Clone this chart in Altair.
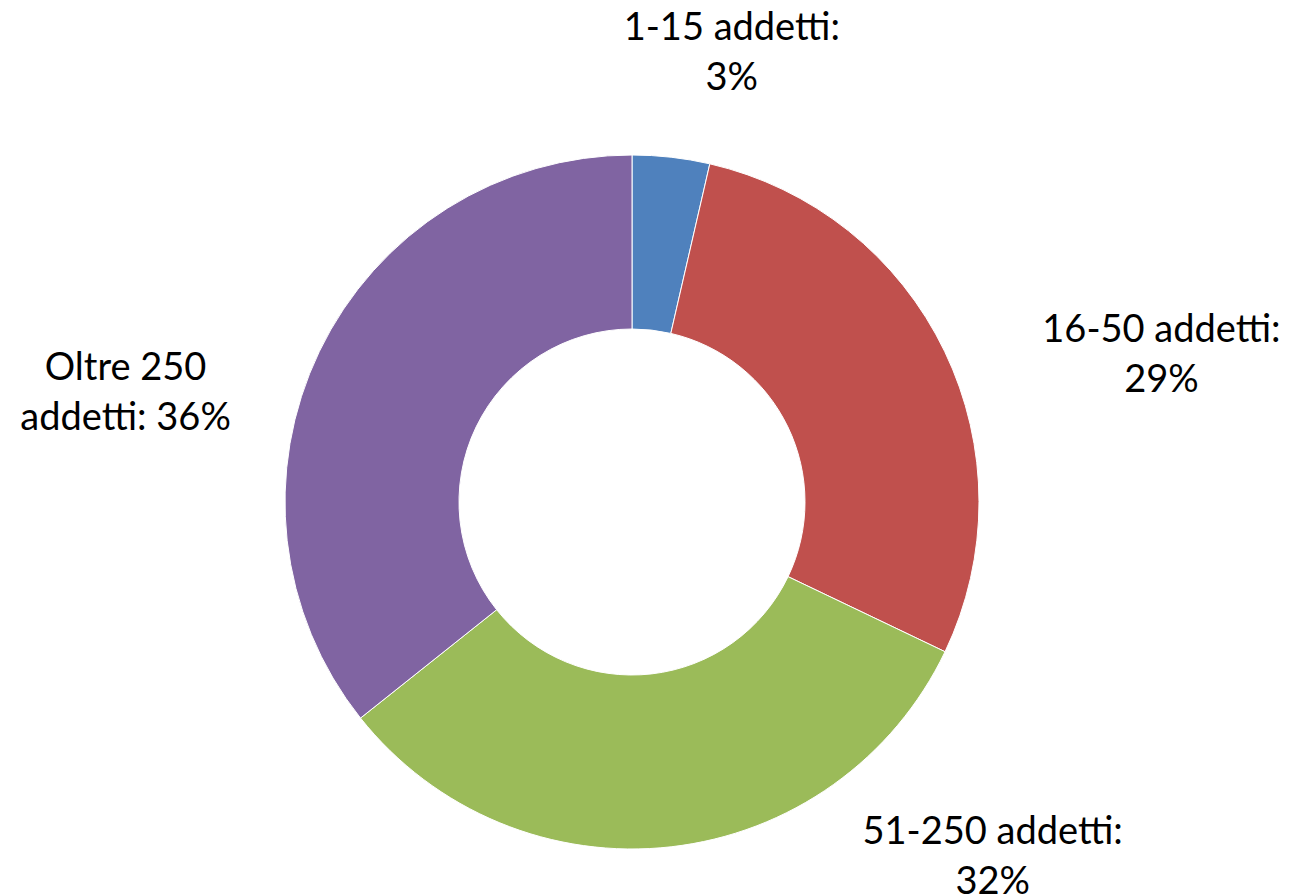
import altair as alt
import pandas as pd

categories = ["1-15 addetti", "16-50 addetti", "51-250 addetti", "Oltre 250 addetti"]
values = [3.6, 28.5, 32.2, 35.7]
labels = ["1-15 addetti:\n3%", "16-50 addetti:\n29%", "51-250 addetti:\n32%", "Oltre 250\naddetti: 36%"]
colors = ["#4F81BD", "#C0504D", "#9BBB59", "#8064A2"]

df = pd.DataFrame({
    "cat": categories,
    "value": values,
    "label": labels,
    "idx": list(range(len(categories))),
})

CX, CY = 624, 494
base = alt.Chart(df)

arc = base.mark_arc(outerRadius=347, innerRadius=173, stroke="white", strokeWidth=1).encode(
    theta=alt.Theta("value:Q", stack=True),
    order=alt.Order("idx:Q"),
    color=alt.Color("cat:N", scale=alt.Scale(domain=categories, range=colors), legend=None),
    x=alt.value(CX),
    y=alt.value(CY),
)

# label placement per slice: (radius, dx, dy)
placements = [(450, 49, -26), (560, 25, 72), (440, 311, -106), (540, -20, 102)]

layers = [arc]
for cat, (r, dx, dy) in zip(categories, placements):
    t = base.mark_text(
        radius=r, dx=dx, dy=dy, lineBreak="\n", align="center", baseline="middle",
        font="Lato", fontSize=38, lineHeight=50, color="black",
    ).encode(
        theta=alt.Theta("value:Q", stack=True),
        order=alt.Order("idx:Q"),
        text=alt.condition(alt.datum.cat == cat, alt.Text("label:N"), alt.value("")),
        x=alt.value(CX),
        y=alt.value(CY),
    )
    layers.append(t)

chart = alt.layer(*layers).properties(
    width=1273, height=888, padding=0, autosize=alt.AutoSizeParams(type="none")
).configure_view(stroke=None)

chart.save("out.html", embed_options={"renderer": "svg", "actions": False})
